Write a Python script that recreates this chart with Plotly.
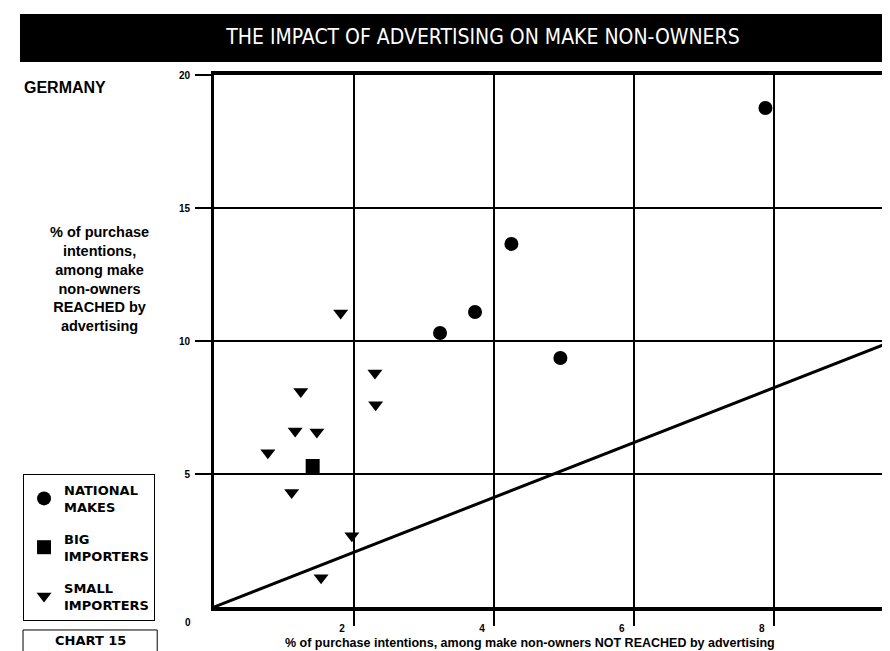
# Germany: impact of advertising on make non-owners (chart 15)
import plotly.graph_objects as go

# % purchase intentions: x = NOT reached by advertising, y = REACHED by advertising
national_x = [7.88, 4.25, 3.73, 3.23, 4.95]
national_y = [18.76, 13.65, 11.09, 10.30, 9.36]

big_x = [1.41]
big_y = [5.30]

small_x = [1.81, 2.30, 2.31, 1.24, 1.16, 1.47, 0.77, 1.11, 1.97, 1.53]
small_y = [11.05, 8.80, 7.60, 8.10, 6.62, 6.58, 5.80, 4.30, 2.68, 1.10]

# reference line (as drawn in the scan)
diag_x = [0, 10]
diag_y = [0, 10.3]

x_ticks = [2, 4, 6, 8]
y_ticks = [5, 10, 15, 20]

FONT = "Liberation Sans, Arial, sans-serif"
WIDE = "DejaVu Sans, Verdana, sans-serif"


def txt(size, family=FONT):
    return dict(family=family, size=size, color="black")


fig = go.Figure()

fig.add_trace(go.Scatter(x=diag_x, y=diag_y, mode="lines",
                         line=dict(color="black", width=3), showlegend=False, hoverinfo="skip"))

fig.add_trace(go.Scatter(x=national_x, y=national_y, mode="markers", name="NATIONAL<br>MAKES",
                         legendgroup="a", marker=dict(symbol="circle", size=14, color="black")))
fig.add_trace(go.Scatter(x=big_x, y=big_y, mode="markers", name="BIG<br>IMPORTERS",
                         legendgroup="b", marker=dict(symbol="square", size=14, color="black")))
fig.add_trace(go.Scatter(x=small_x, y=small_y, mode="markers", name="SMALL<br>IMPORTERS",
                         legendgroup="c", marker=dict(symbol="triangle-down", size=13, color="black")))

fig.update_xaxes(range=[0, 9.66], tickvals=x_ticks, ticktext=[str(v) for v in x_ticks],
                 showgrid=True, gridcolor="black", gridwidth=1.5, zeroline=False,
                 showline=True, linecolor="black", linewidth=4, mirror=True,
                 ticks="outside", ticklen=15, tickwidth=1.5, tickcolor="black",
                 ticklabelshift=-12, ticklabelstandoff=-6,
                 tickfont=dict(family=FONT, size=10, color="black", weight="bold"))
fig.update_yaxes(range=[0, 20], tickvals=y_ticks, ticktext=[str(v) for v in y_ticks],
                 showgrid=True, gridcolor="black", gridwidth=1.5, zeroline=False,
                 showline=True, linecolor="black", linewidth=3,
                 ticks="outside", ticklen=16, tickwidth=1.5, tickcolor="black",
                 ticklabelstandoff=3,
                 tickfont=dict(family=FONT, size=10, color="black", weight="bold"))

# title bar + chart number box
fig.add_shape(type="rect", xref="paper", yref="paper", x0=-0.287, x1=1.0, y0=1.0244, y1=1.1147,
              fillcolor="black", line=dict(width=0), layer="below")
fig.add_shape(type="rect", xref="paper", yref="paper", x0=-0.2825, x1=-0.084, y0=-0.0432, y1=-0.1,
              fillcolor="white", line=dict(color="black", width=1))

fig.add_annotation(text="<b>GERMANY</b>", xref="paper", yref="paper", showarrow=False,
                   x=-0.284, y=0.9756, xanchor="left", yanchor="middle", font=txt(16))
fig.add_annotation(text="<b>% of purchase<br>intentions,<br>among make<br>non-owners<br>REACHED by<br>advertising</b>",
                   xref="paper", yref="paper", showarrow=False,
                   x=-0.170, y=0.6165, xanchor="center", yanchor="middle", align="center",
                   font=txt(14.5))
fig.add_annotation(text="<b>% of purchase intentions, among make non-owners NOT REACHED by advertising</b>",
                   xref="paper", yref="paper", showarrow=False,
                   x=0.467, y=-0.068, xanchor="center", yanchor="middle", font=txt(12.5))
fig.add_annotation(text="<b>0</b>", xref="paper", yref="paper", showarrow=False,
                   x=-0.0385, y=-0.0282, xanchor="center", yanchor="middle", font=txt(10))
# only the "1" of the 10 label fits inside the page, as in the scan
fig.add_annotation(text="<b>10</b>", xref="paper", yref="paper", showarrow=False,
                   x=1.0, y=-0.038, xanchor="left", yanchor="middle", xshift=-10, font=txt(10))
fig.add_annotation(text="<b>CHART 15</b>", xref="paper", yref="paper", showarrow=False,
                   x=-0.1834, y=-0.0639, xanchor="center", yanchor="middle", font=txt(13, WIDE))

fig.update_layout(
    # page body adds an 8px offset, so the figure is 8px smaller than the window
    width=882, height=643,
    margin=dict(l=206, r=0, t=67, b=44),
    paper_bgcolor="white", plot_bgcolor="white",
    title=dict(text="THE IMPACT OF ADVERTISING ON MAKE NON-OWNERS",
               x=0.5385, xref="container", xanchor="center",
               y=0.9549, yref="container", yanchor="middle",
               font=dict(family="DejaVu Sans Condensed, Liberation Sans Narrow, Roboto, sans-serif",
                         size=21, color="white")),
    legend=dict(x=-0.2825, xanchor="left", y=0.25, yanchor="top",
                bordercolor="black", borderwidth=1, bgcolor="white",
                tracegroupgap=12,
                font=dict(family=WIDE, size=13, color="black", weight="bold")),
    showlegend=True,
)

fig.write_html("out.html")
